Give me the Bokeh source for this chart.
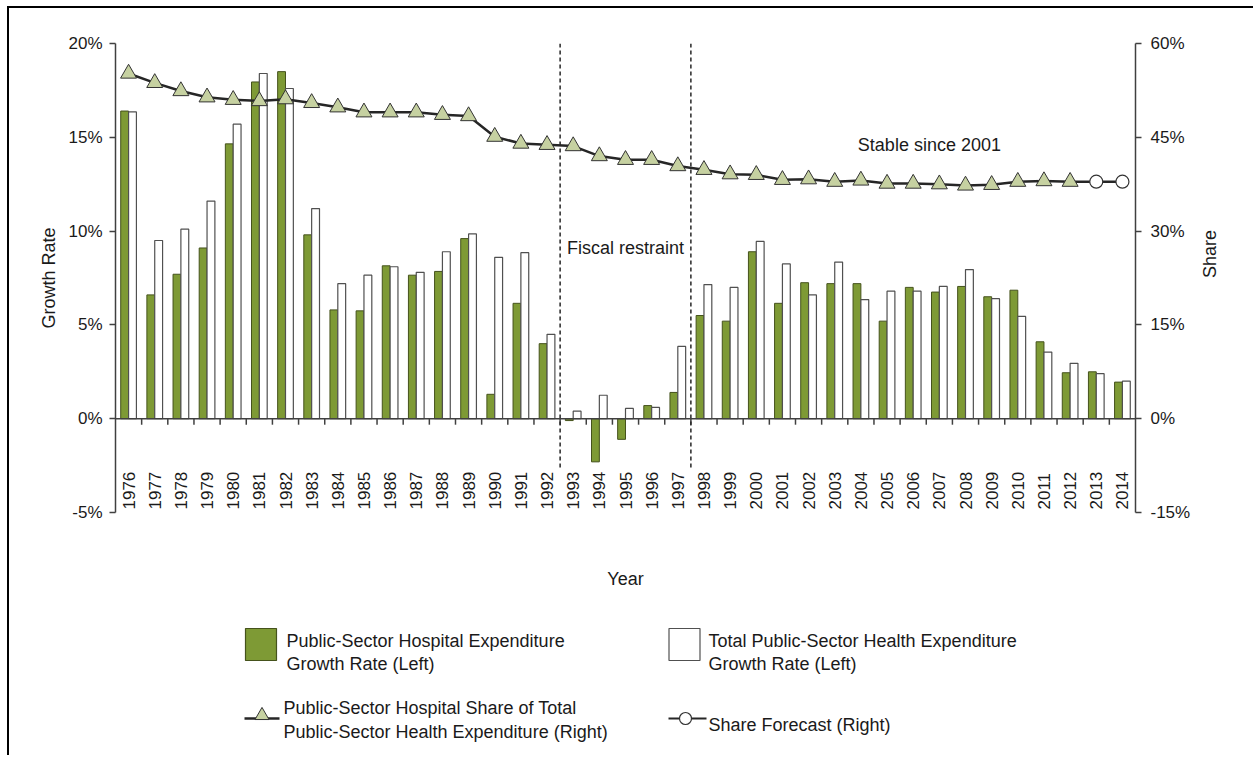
import math
from bokeh.plotting import figure
from bokeh.models import (Range1d, LinearAxis, FixedTicker, ColumnDataSource, Span,
                          CustomJSTickFormatter, Label)
from bokeh.layouts import column
from bokeh.transform import dodge
from bokeh.embed import file_html
from bokeh.resources import INLINE
from bokeh.core.properties import value

# ---------------- data ----------------
years = list(range(1976, 2015))
hospital_growth = [16.4, 6.6, 7.7, 9.1, 14.65, 17.95, 18.5, 9.8, 5.8, 5.75,
                   8.15, 7.65, 7.85, 9.6, 1.3, 6.15, 4.0, -0.1, -2.3, -1.1,
                   0.7, 1.4, 5.5, 5.2, 8.9, 6.15, 7.25, 7.2, 7.2, 5.2,
                   7.0, 6.75, 7.05, 6.5, 6.85, 4.1, 2.45, 2.5, 1.95]
total_growth = [16.35, 9.5, 10.1, 11.6, 15.7, 18.4, 17.6, 11.2, 7.2, 7.65,
                8.1, 7.8, 8.9, 9.85, 8.6, 8.85, 4.5, 0.4, 1.25, 0.55,
                0.6, 3.85, 7.15, 7.0, 9.45, 8.25, 6.6, 8.35, 6.35, 6.8,
                6.8, 7.05, 7.95, 6.4, 5.45, 3.55, 2.95, 2.4, 2.0]
share_years = list(range(1976, 2013))
hospital_share = [55.2, 53.7, 52.4, 51.4, 51.0, 50.8, 51.1, 50.5, 49.8, 49.0,
                  49.0, 49.0, 48.6, 48.4, 45.1, 44.0, 43.8, 43.6, 42.0, 41.4,
                  41.4, 40.4, 39.8, 39.1, 39.0, 38.2, 38.3, 37.9, 38.1, 37.6,
                  37.6, 37.5, 37.3, 37.4, 37.9, 38.0, 37.9]
forecast_years = [2013, 2014]
share_forecast = [37.9, 37.9]
left_ticks = [-5, 0, 5, 10, 15, 20]
right_ticks = [-15, 0, 15, 30, 45, 60]
restraint_years = (1993, 1997)

FONT = "Liberation Sans"
TXT = "#1a1a1a"
AX = "#404040"
GREEN = "#7E9A35"
TRI = "#C6D1A1"

base = years[0]
idx = [y - base for y in years]
n = len(years)

W = 1244
p = figure(width=W, height=590,
           x_range=Range1d(-0.5, n - 0.5), y_range=Range1d(left_ticks[0], left_ticks[-1]),
           output_backend="svg", toolbar_location=None,
           min_border_left=106, min_border_right=118, min_border_top=35, min_border_bottom=86)
p.extra_y_ranges = {"share": Range1d(right_ticks[0], right_ticks[-1])}
p.outline_line_color = None
p.xgrid.visible = False
p.ygrid.visible = False

# x axis: only the title
xa = p.xaxis[0]
xa.ticker = FixedTicker(ticks=[])
xa.axis_line_color = None
xa.major_tick_line_color = None
xa.minor_tick_line_color = None
xa.axis_label = "Year"
xa.axis_label_text_font = FONT
xa.axis_label_text_font_size = "18px"
xa.axis_label_text_font_style = "normal"
xa.axis_label_text_color = TXT
xa.axis_label_standoff = 56

def style_y(ax, ticks, label, lstand, astand):
    ax.ticker = FixedTicker(ticks=ticks)
    ax.formatter = CustomJSTickFormatter(code="return tick + '%';")
    ax.axis_label = label
    ax.axis_line_color = AX
    ax.axis_line_width = 1.5
    ax.major_tick_line_color = AX
    ax.major_tick_line_width = 1.5
    ax.major_tick_out = 6
    ax.major_tick_in = 0
    ax.minor_tick_line_color = None
    ax.major_label_text_font = FONT
    ax.major_label_text_font_size = "17px"
    ax.major_label_text_color = TXT
    ax.major_label_standoff = lstand
    ax.axis_label_text_font = FONT
    ax.axis_label_text_font_size = "18px"
    ax.axis_label_text_font_style = "normal"
    ax.axis_label_text_color = TXT
    ax.axis_label_standoff = astand

style_y(p.yaxis[0], left_ticks, "Growth Rate", 7, 6)
ra = LinearAxis(y_range_name="share")
style_y(ra, right_ticks, "Share", 9, 17)
ra.axis_label_orientation = math.pi / 2
p.add_layout(ra, "right")

# bars
src = ColumnDataSource(dict(x=idx, hosp=hospital_growth, tot=total_growth))
p.vbar(x=dodge("x", -0.15, range=p.x_range), top="hosp", bottom=0, width=0.3, source=src,
       fill_color=GREEN, line_color="#45521C", line_width=1)
p.vbar(x=dodge("x", 0.15, range=p.x_range), top="tot", bottom=0, width=0.3, source=src,
       fill_color="white", line_color="#505050", line_width=1.2)

# zero axis line with boundary ticks
p.add_layout(Span(location=0, dimension="width", line_color=AX, line_width=1.5))
bounds = [i + 0.5 for i in idx[:-1]]
p.segment(x0=bounds, y0=[0] * len(bounds), x1=bounds, y1=[-0.32] * len(bounds),
          line_color=AX, line_width=1.5)

# year labels
p.text(x=idx, y=[left_ticks[0]] * n, text=[str(y) for y in years], angle=math.pi / 2,
       text_align="left", text_baseline="middle", y_offset=-3,
       text_font=value(FONT), text_font_size="17px", text_color=TXT)

# fiscal restraint dashed lines
rx = [restraint_years[0] - base - 0.5, restraint_years[1] - base + 0.5]
p.segment(x0=rx, y0=[left_ticks[-1]] * 2, x1=rx, y1=[-2.76] * 2,
          line_color="#262626", line_width=1.5, line_dash="4 3")

# share line
sx = [y - base for y in share_years]
fx = [share_years[-1] - base] + [y - base for y in forecast_years]
p.line(fx, [hospital_share[-1]] + share_forecast, y_range_name="share",
       line_color="#262626", line_width=2.5)
p.line(sx, hospital_share, y_range_name="share", line_color="#262626", line_width=2.5)
p.scatter(sx, hospital_share, y_range_name="share", marker="triangle", size=16,
          fill_color=TRI, line_color="#333333", line_width=1)
p.scatter([y - base for y in forecast_years], share_forecast, y_range_name="share",
          marker="circle", size=13, fill_color="white", line_color="#333333", line_width=1.2)

p.add_layout(Label(x=(rx[0] + rx[1]) / 2, y=9.1, text="Fiscal restraint",
                   text_align="center", text_baseline="middle",
                   text_font=FONT, text_font_size="18px", text_color=TXT))
p.add_layout(Label(x=30.62, y=43.7, y_range_name="share", text="Stable since 2001",
                   text_align="center", text_baseline="middle",
                   text_font=FONT, text_font_size="18px", text_color=TXT))

# ---------------- legend (coordinates in page pixels) ----------------
LEG_TOP = 598
LEG_H = 157
leg = figure(width=W, height=LEG_H, x_range=Range1d(115, 1135),
             y_range=Range1d(LEG_TOP + LEG_H, LEG_TOP),
             output_backend="svg", toolbar_location=None, min_border=0,
             x_axis_type=None, y_axis_type=None)
leg.outline_line_color = None
leg.rect(x=[260.5], y=[644], width=31, height=32, fill_color=GREEN, line_color="#45521C", line_width=1.2)
leg.rect(x=[684], y=[644], width=31, height=32, fill_color="white", line_color="#505050", line_width=1.2)
leg.line([244, 279], [718, 718], line_color="#262626", line_width=2.5)
leg.scatter([261.5], [715], marker="triangle", size=14, fill_color=TRI, line_color="#333333", line_width=1)
leg.line([668, 706], [718, 718], line_color="#262626", line_width=2)
leg.scatter([685], [718], marker="circle", size=12, fill_color="white", line_color="#333333", line_width=1.2)
leg_text = dict(
    x=[286, 286, 708, 708, 283, 283, 708],
    y=[640, 663, 640, 663, 707, 731, 724],
    t=["Public-Sector Hospital Expenditure", "Growth Rate (Left)",
       "Total Public-Sector Health Expenditure", "Growth Rate (Left)",
       "Public-Sector Hospital Share of Total", "Public-Sector Health Expenditure (Right)",
       "Share Forecast (Right)"])
leg.text(x="x", y="y", text="t", source=ColumnDataSource(leg_text),
         text_align="left", text_baseline="alphabetic",
         text_font=value(FONT), text_font_size="18px", text_color=TXT)

layout = column(p, leg, styles={"border-top": "2px solid #000", "border-left": "2px solid #000",
                                "margin-top": "6px", "margin-left": "7px"})
open("out.html", "w").write(file_html(layout, INLINE))
